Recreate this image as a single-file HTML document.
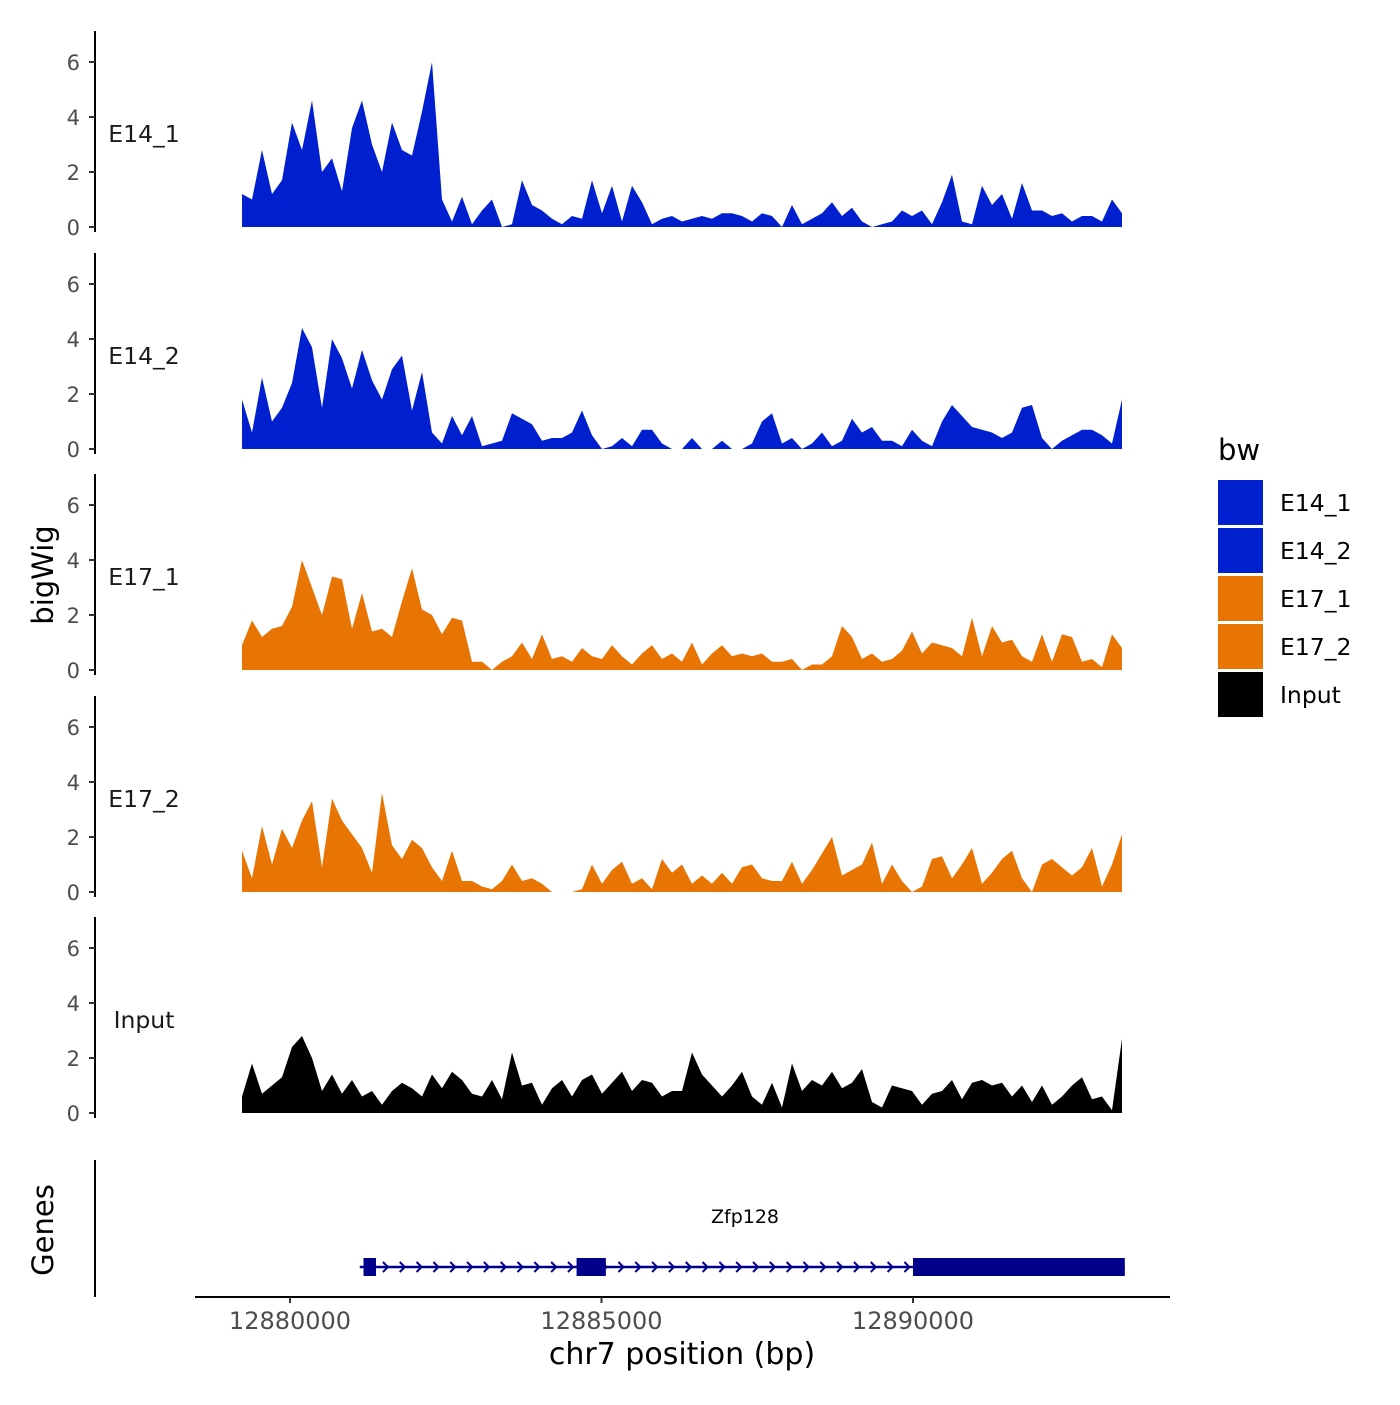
<!DOCTYPE html>
<html><head><meta charset="utf-8"><style>
body{margin:0;background:#fff}
svg{font-family:"DejaVu Sans","Liberation Sans",sans-serif}
</style></head><body>
<svg id="chart" width="1400" height="1400" xmlns="http://www.w3.org/2000/svg"></svg>
<script>
const startBp = 12879230;
const stepBp = 160.5;
const trackNames = ["E14_1","E14_2","E17_1","E17_2","Input"];
const trackColors = ["#0020D0","#0020D0","#E87503","#E87503","#000000"];
const e14_1 = [1.2,1.0,2.8,1.2,1.7,3.8,2.8,4.6,2.0,2.5,1.3,3.6,4.6,3.0,2.0,3.8,2.8,2.6,4.2,6.0,1.0,0.2,1.1,0.1,0.6,1.0,0,0.1,1.7,0.8,0.6,0.3,0.1,0.4,0.3,1.7,0.5,1.5,0.2,1.5,0.9,0.1,0.3,0.4,0.2,0.3,0.4,0.3,0.5,0.5,0.4,0.2,0.5,0.4,0.0,0.8,0.1,0.3,0.5,0.9,0.4,0.7,0.2,0,0.1,0.2,0.6,0.4,0.6,0.1,0.9,1.9,0.2,0.1,1.5,0.8,1.2,0.3,1.6,0.6,0.6,0.4,0.5,0.2,0.4,0.4,0.2,1.0,0.5];
const e14_2 = [1.8,0.6,2.6,1.0,1.5,2.4,4.4,3.7,1.5,4.0,3.3,2.2,3.6,2.5,1.8,2.9,3.4,1.4,2.8,0.6,0.2,1.2,0.5,1.2,0.1,0.2,0.3,1.3,1.1,0.9,0.3,0.4,0.4,0.6,1.4,0.5,0.0,0.1,0.4,0.1,0.7,0.7,0.2,0.0,0.0,0.4,0.0,0.0,0.3,0.0,0.0,0.2,1.0,1.3,0.2,0.4,0.0,0.2,0.6,0.1,0.3,1.1,0.6,0.8,0.3,0.3,0.1,0.7,0.3,0.1,1.0,1.6,1.2,0.8,0.7,0.6,0.4,0.6,1.5,1.6,0.4,0.0,0.3,0.5,0.7,0.7,0.5,0.2,1.8];
const e17_1 = [0.9,1.8,1.2,1.5,1.6,2.3,4.0,3.0,2.0,3.4,3.3,1.5,2.8,1.4,1.5,1.2,2.5,3.7,2.2,2.0,1.3,1.9,1.8,0.3,0.3,0.0,0.3,0.5,1.0,0.4,1.3,0.4,0.5,0.3,0.8,0.5,0.4,0.9,0.5,0.2,0.6,0.9,0.4,0.6,0.3,1.0,0.2,0.6,0.9,0.5,0.6,0.5,0.6,0.3,0.3,0.4,0.0,0.2,0.2,0.5,1.6,1.2,0.4,0.6,0.3,0.4,0.7,1.4,0.6,1.0,0.9,0.8,0.5,1.9,0.5,1.6,1.0,1.1,0.5,0.3,1.3,0.3,1.3,1.2,0.3,0.4,0.1,1.3,0.8];
const e17_2 = [1.5,0.5,2.4,1.0,2.3,1.6,2.6,3.3,0.9,3.4,2.6,2.1,1.6,0.7,3.6,1.7,1.2,1.9,1.6,0.9,0.4,1.5,0.4,0.4,0.2,0.1,0.4,1.0,0.4,0.5,0.3,0.0,0.0,0.0,0.1,1.0,0.3,0.8,1.1,0.3,0.5,0.1,1.2,0.7,1.0,0.3,0.6,0.3,0.7,0.3,0.9,1.0,0.5,0.4,0.4,1.1,0.3,0.8,1.4,2.0,0.6,0.8,1.0,1.8,0.3,1.0,0.4,0.0,0.2,1.2,1.3,0.5,1.0,1.6,0.3,0.7,1.2,1.5,0.5,0.0,1.0,1.2,0.9,0.6,0.9,1.6,0.2,1.0,2.1];
const input = [0.6,1.8,0.7,1.0,1.3,2.4,2.8,2.0,0.8,1.4,0.7,1.2,0.6,0.8,0.3,0.8,1.1,0.9,0.6,1.4,0.9,1.5,1.2,0.7,0.6,1.2,0.5,2.2,1.0,1.1,0.3,0.9,1.2,0.6,1.2,1.4,0.7,1.1,1.5,0.8,1.2,1.1,0.6,0.8,0.8,2.2,1.4,1.0,0.6,1.0,1.5,0.6,0.3,1.1,0.2,1.8,0.8,1.2,1.0,1.5,0.9,1.1,1.6,0.4,0.2,1.0,0.9,0.8,0.3,0.7,0.8,1.2,0.5,1.1,1.2,1.0,1.1,0.6,1.0,0.4,1.0,0.3,0.6,1.0,1.3,0.5,0.6,0.1,2.7];
const trackValues = [e14_1,e14_2,e17_1,e17_2,input];
const yTicks = [0,2,4,6];
const xTicks = [12880000,12885000,12890000];
const geneName = "Zfp128";
const geneStart = 12881120, geneEnd = 12893400;
const exons = [[12881180,12881380],[12884600,12885070],[12890000,12893400]];

const NS="http://www.w3.org/2000/svg";
const svg=document.getElementById('chart');
function el(tag,attrs,parent){const e=document.createElementNS(NS,tag);for(const k in attrs)e.setAttribute(k,attrs[k]);(parent||svg).appendChild(e);return e;}
const xScale = bp => 290 + (bp-12880000)*0.0623;
const y0s=[227,449,670,892,1113];
const yScale=(i,v)=>y0s[i]-v*27.5;

trackNames.forEach((name,i)=>{
  const g=el('g',{});
  
  
  const ax=el('line',{x1:95,x2:95,y1:y0s[i]-196,y2:y0s[i]+5,stroke:'#000','stroke-width':2},g);
  
  
  yTicks.forEach(t=>{
    const y=yScale(i,t);
    el('line',{x1:89,x2:95,y1:y,y2:y,stroke:'#333','stroke-width':2},g);
    const tx=el('text',{x:80,y:y+8,'text-anchor':'end','font-size':21,fill:'#4d4d4d'},g);
    tx.textContent=t;
    
    
  });
  const vals=trackValues[i];
  let d='M'+xScale(startBp)+','+y0s[i];
  vals.forEach((v,j)=>{d+=' L'+xScale(startBp+j*stepBp).toFixed(1)+','+yScale(i,v).toFixed(1);});
  d+=' L'+xScale(startBp+(vals.length-1)*stepBp).toFixed(1)+','+y0s[i]+' Z';
  const p=el('path',{d:d,fill:trackColors[i]},g);
  
  
  const lb=el('text',{x:144,y:y0s[i]-85,'text-anchor':'middle','font-size':23.5,fill:'#1a1a1a'},g);
  lb.textContent=name;
  
  
});

const yt=el('text',{x:0,y:0,transform:'translate(53,575) rotate(-90)','text-anchor':'middle','font-size':29,fill:'#000'});
yt.textContent='bigWig';



const gg=el('g',{});


el('line',{x1:95,x2:95,y1:1160,y2:1297,stroke:'#000','stroke-width':2},gg);
const gt=el('text',{x:0,y:0,transform:'translate(53,1230) rotate(-90)','text-anchor':'middle','font-size':29,fill:'#000'},gg);
gt.textContent='Genes';


const gy=1267;
el('line',{x1:xScale(geneStart),x2:xScale(geneEnd),y1:gy,y2:gy,stroke:'#00008B','stroke-width':2.5},gg);
for(let bp=geneStart+150;bp<geneEnd-100;bp+=270){
  const x=xScale(bp);
  el('path',{d:`M${x-3},${gy-5} L${x+2},${gy} L${x-3},${gy+5}`,fill:'none',stroke:'#00008B','stroke-width':2},gg);
}
exons.forEach(e=>{
  const r=el('rect',{x:xScale(e[0]),y:gy-9,width:xScale(e[1])-xScale(e[0]),height:18,fill:'#00008B'},gg);
  
  
});
const gn=el('text',{x:745,y:1223,'text-anchor':'middle','font-size':19,fill:'#000'},gg);
gn.textContent=geneName;



const xa=el('g',{});


el('line',{x1:195,x2:1170,y1:1297,y2:1297,stroke:'#000','stroke-width':2},xa);
xTicks.forEach(t=>{
  const x=xScale(t);
  el('line',{x1:x,x2:x,y1:1297,y2:1303,stroke:'#333','stroke-width':2},xa);
  const tx=el('text',{x:x,y:1329,'text-anchor':'middle','font-size':24,fill:'#4d4d4d'},xa);
  tx.textContent=t;
  
  
});
const xt=el('text',{x:682,y:1364,'text-anchor':'middle','font-size':30,fill:'#000'});
xt.textContent='chr7 position (bp)';



const lg=el('g',{});


const lt=el('text',{x:1218,y:460,'font-size':29,fill:'#000'},lg);
lt.textContent='bw';


trackNames.forEach((n,i)=>{
  const y=480+i*48;
  const r=el('rect',{x:1218,y:y,width:45,height:45,fill:trackColors[i]},lg);
  
  
  const t=el('text',{x:1280,y:y+31,'font-size':23.5,fill:'#000'},lg);
  t.textContent=n;
  
  
});
</script>
</body></html>
